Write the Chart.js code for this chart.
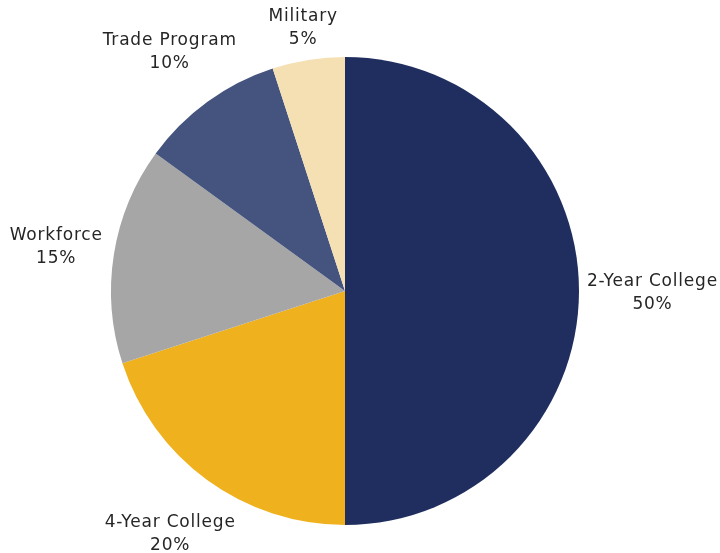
<!DOCTYPE html>
<html>
<head>
<meta charset="utf-8">
<script src="https://cdn.jsdelivr.net/npm/chart.js@4/dist/chart.umd.min.js"></script>
<style>
  html, body { margin: 0; padding: 0; background: #ffffff; }
  #wrap { width: 720px; height: 553px; position: relative; }
</style>
</head>
<body>
<div id="wrap"><canvas id="pieChart"></canvas></div>
<script>
// ==========================================
// Data
// ==========================================

const categories = ['2-Year College', '4-Year College', 'Workforce', 'Trade Program', 'Military'];
const shares = [50, 20, 15, 10, 5];
const sliceColors = ['#1F2E5E', '#EFB11E', '#A6A6A6', '#44547F', '#F5E0B4'];

// ==========================================
// Outside labels (name + percent)
// ==========================================

const outsideLabelsPlugin = {
    id: 'outsideLabels',
    afterDatasetsDraw(chart) {
        const ctx = chart.ctx;
        const meta = chart.getDatasetMeta(0);
        const total = shares.reduce(function (a, b) { return a + b; }, 0);
        const lineH = 23;

        ctx.save();
        ctx.font = '17px "DejaVu Sans", sans-serif';
        ctx.letterSpacing = '0.8px';
        ctx.fillStyle = '#262626';
        ctx.textAlign = 'center';
        ctx.textBaseline = 'middle';

        meta.data.forEach(function (arc, i) {
            const p = arc.getProps(['x', 'y', 'startAngle', 'endAngle', 'outerRadius'], true);
            const mid = (p.startAngle + p.endAngle) / 2;
            const dx = Math.cos(mid);
            const dy = Math.sin(mid);
            const line1 = categories[i];
            const line2 = Math.round(shares[i] / total * 100) + '%';
            const w = Math.max(ctx.measureText(line1).width, ctx.measureText(line2).width);
            const h = lineH * 2 - 4;
            const extent = Math.sqrt(Math.pow(dx * w / 2, 2) + Math.pow(dy * h / 2, 2));
            // diagonal labels sit a little further out
            const dist = p.outerRadius + 8 + extent + 28 * Math.abs(dx * dy);
            const cx = p.x + dx * dist;
            const cy = p.y + dy * dist + 2;
            ctx.fillText(line1, cx, cy - lineH / 2);
            ctx.fillText(line2, cx, cy + lineH / 2);
        });
        ctx.restore();
    }
};

// ==========================================
// Chart Setup
// ==========================================

function createChart() {
    const ctx = document.getElementById('pieChart').getContext('2d');
    new Chart(ctx, {
        type: 'pie',
        data: {
            labels: categories,
            datasets: [{
                data: shares,
                backgroundColor: sliceColors,
                borderWidth: 0
            }]
        },
        options: {
            responsive: true,
            maintainAspectRatio: false,
            animation: false,
            layout: {
                padding: { left: 111, right: 141, top: 57, bottom: 28 }
            },
            plugins: {
                legend: { display: false },
                tooltip: { enabled: false }
            }
        },
        plugins: [outsideLabelsPlugin]
    });
}

document.addEventListener('DOMContentLoaded', createChart);
</script>
</body>
</html>
